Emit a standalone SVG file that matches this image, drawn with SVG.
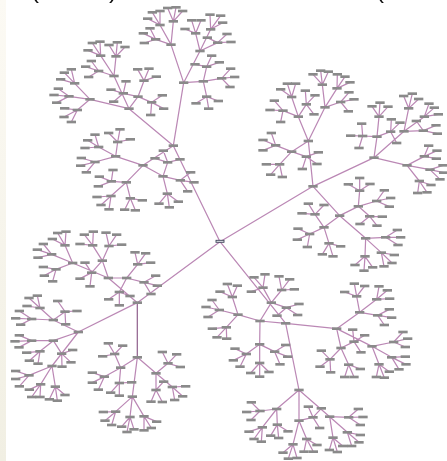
<svg xmlns="http://www.w3.org/2000/svg" width="447" height="461" viewBox="0 0 447 461">
<style>
.t{font:24px "Liberation Sans",Arial,sans-serif;fill:#111}
.e path{fill:none;stroke:#bb88b5;stroke-width:3.7;stroke-linecap:round;stroke-linejoin:round}
.e .r{stroke-width:1.25}
.e .d{stroke:#8f5f8c;stroke-width:1.2}
.k{fill:#8a8a8a}
</style>
<defs>
<linearGradient id="g" x1="0" y1="0" x2="0" y2="1"><stop offset="0" stop-color="#fcfaf4"/><stop offset="1" stop-color="#f1efe3"/></linearGradient>
<filter id="s" filterUnits="userSpaceOnUse" x="0" y="0" width="447" height="461"><feGaussianBlur stdDeviation="0.38"/></filter>
<rect id="b" class="k" x="-14" y="-4" width="28" height="8"/>
</defs>
<rect width="447" height="461" fill="#fff"/>
<rect width="6" height="461" fill="url(#g)"/>
<g filter="url(#s)">
<text class="t" x="31" y="-2">(</text><text class="t" x="109" y="-2">)</text><text class="t" x="376" y="-2">(</text>
<g id="connectors" class="e">
<path class="r" d="M220 241.7L173.3 145.7M220 241.7L313 186.3M220 241.7L137.3 302.7M220 241.7L285.7 323.3"/>
<path class="d" d="M137.3 302.7L137.3 357.3"/>
<path transform="scale(.33333)" d="M520 437L551 248 520 437 387 326 520 437 429 496M551 248L513 134 551 248 600 153 551 248 610 244M513 134L480 75 513 134 520 64 513 134 467 118M480 75L457 37 480 75 480 33 480 75 443 56M520 64L503 24 520 64 528 22 520 64 548 33M467 118L430 100 467 118 450 85 467 118 433 129M600 153L587 100 600 153 632 88 600 153 653 128M587 100L555 87 587 100 575 61 587 100 603 61M632 88L630 44 632 88 662 47 632 88 668 68M653 128L622 113 653 128 681 102 653 128 693 126M610 244L620 200 610 244 665 235 610 244 620 290M620 200L585 193 620 200 635 167 620 200 658 187M665 235L692 206 665 235 704 231 665 235 690 261M620 290L588 310 620 290 626 326 620 290 655 303M387 326L270 298 387 326 342 228 387 326 414 290M270 298L224 250 270 298 207 289 270 298 232 330M224 250L193 218 224 250 214 208 224 250 182 238M207 289L175 266 207 289 162 285 207 289 170 308M232 330L194 325 232 330 192 351 232 330 214 366M342 228L302 167 342 228 348 169 342 228 296 213M302 167L277 129 302 167 300 125 302 167 264 151M348 169L327 135 348 169 352 127 348 169 375 141M296 213L274 183 296 213 257 200 296 213 266 231M414 290L370 280 414 290 432 242 414 290 455 307M370 280L333 269 370 280 378 244 370 280 341 305M432 242L413 208 432 242 447 206 432 242 469 230M455 307L487 286 455 307 491 326 455 307 452 345M429 496L347 469 429 496 379 547 429 496 489 529M489 529L503 487 489 529 541 541 489 529 502 581M503 487L490 452 503 487 465 475 503 487 540 478M541 541L572 517 541 541 582 547 541 541 563 574M502 581L477 611 502 581 508 622 502 581 535 605M347 469L296 441 347 469 353 426 347 469 285 486M296 441L263 421 296 441 285 404 296 441 255 444M353 426L326 399 353 426 360 388 353 426 391 418M285 486L244 474 285 486 242 497 285 486 259 517M379 547L334 544 379 547 333 588 379 547 391 595M334 544L298 530 334 544 339 510 334 544 295 559M333 588L291 591 333 588 303 615 333 588 327 628M391 595L374 629 391 595 406 631 391 595 427 601"/>
<path transform="translate(224 0) scale(.33333)" d="M267 559L253 423 267 559 450 473 267 559 347 647M253 423L223 350 253 423 303 322 253 423 203 455M203 455L155 436 203 455 167 493 203 455 247 470M223 350L203 291 223 350 247 313 223 350 177 332M203 291L170 268 203 291 190 251 203 291 215 251M247 313L244 272 247 313 273 286 247 313 270 343M177 332L151 302 177 332 138 330 177 332 170 366M303 322L295 254 303 322 339 265 303 322 350 306M295 254L267 223 295 254 290 212 295 254 313 215M339 265L340 223 339 265 363 230 339 265 378 247M350 306L375 277 350 306 390 298 350 306 373 334M155 436L142 399 155 436 117 420 155 436 117 451M167 493L127 493 167 493 140 524 167 493 175 531M247 470L283 457 247 470 279 492 247 470 235 507M450 473L459 410 450 473 540 394 450 473 549 496M459 410L416 408 459 410 465 350 459 410 500 395M416 408L380 407 416 408 413 371 416 408 405 444M465 350L444 319 465 350 468 308 465 350 492 320M500 395L502 358 500 395 528 368 500 395 518 429M540 394L554 325 540 394 601 350 540 394 598 392M554 325L539 288 554 325 565 281 554 325 584 297M601 350L615 311 601 350 631 323 601 350 643 343M598 392L577 363 598 392 636 376 598 392 640 401M549 496L601 469 549 496 618 509 549 496 586 543M601 469L614 437 601 469 639 452 601 469 637 476M618 509L657 496 618 509 659 518 618 509 648 538M586 543L621 555 586 543 581 579 586 543 609 577M347 647L403 619 347 647 300 682 347 647 425 715M403 619L407 572 403 619 458 603 403 619 437 649M407 572L373 553 407 572 407 534 407 572 438 552M458 603L481 571 458 603 500 594 458 603 496 620M437 649L475 650 437 649 408 672 437 649 459 677M300 682L273 643 300 682 257 702 300 682 315 730M273 643L253 611 273 643 300 615 273 643 234 640M257 702L222 686 257 702 220 719 257 702 250 741M315 730L350 739 315 730 295 763 315 730 327 769M425 715L485 712 425 715 423 769 425 715 472 758M485 712L520 690 485 712 530 712 485 712 522 735M423 769L393 795 423 769 420 812 423 769 446 802M472 758L511 765 472 758 504 789 472 758 480 799"/>
<path transform="translate(0 230) scale(.33333)" d="M412 218L325 144 412 218 235 306M325 144L218 99 325 144 307 92 325 144 380 144M218 99L195 46 218 99 155 73 218 99 168 118M195 46L173 9 195 46 198 5 195 46 157 27M155 73L130 42 155 73 112 59 155 73 114 83M168 118L130 111 168 118 133 137 168 118 158 154M307 92L278 46 307 92 327 48 307 92 275 128M278 46L253 14 278 46 280 5 278 46 240 42M327 48L318 8 327 48 350 14 327 48 365 44M275 128L255 98 275 128 240 146 275 128 270 169M380 144L413 103 380 144 432 157 380 144 358 186M413 103L405 67 413 103 437 70 413 103 452 98M432 157L467 137 432 157 472 167 432 157 453 192M358 186L326 208 358 186 358 226 358 186 390 198M235 306L160 270 235 306 160 332 235 306 156 408M160 270L120 234 160 270 95 267 160 270 195 245M120 234L87 204 120 234 112 197 120 234 81 228M95 267L58 243 95 267 47 265 95 267 62 284M195 245L173 213 195 245 231 243 195 245 197 283M160 332L95 332 160 332 120 364 160 332 185 371M95 332L58 316 95 332 45 334 95 332 57 352M120 364L80 368 120 364 88 392 120 364 114 401M185 371L218 360 185 371 213 397 185 371 186 410M156 408L87 436 156 408 122 463 156 408 166 470M87 436L47 423 87 436 47 447 87 436 58 469M122 463L88 479 122 463 95 501 122 463 120 501M166 470L148 508 166 470 172 512 166 470 195 495M412 382L362 413 412 382 397 500 412 382 468 430M362 413L344 372 362 413 313 440 362 413 358 459M344 372L325 340 344 372 368 347 344 372 308 379M313 440L277 428 313 440 277 458 313 440 295 479M358 459L395 457 358 459 332 488 358 459 358 497M397 500L347 545 397 500 390 561 397 500 432 559M347 545L310 546 347 545 315 572 347 545 335 585M390 561L365 590 390 561 381 606 390 561 402 598M432 559L432 601 432 559 454 594 432 559 470 575M468 430L504 400 468 430 468 480 468 430 517 471M504 400L487 366 504 400 530 373 504 400 541 411M468 480L491 455 468 480 453 515 468 480 487 516M517 471L557 469 517 471 548 499 517 471 524 510"/>
<path transform="translate(224 230) scale(.33333)" d="M185 280L108 273 185 280 338 296 185 280 225 480M108 273L42 254 108 273 142 218 108 273 107 343M42 254L25 201 42 254 -14 240 42 254 7 292M25 201L10 162 25 201 40 167 25 201 -12 185M-14 240L-36 210 -14 240 -54 231 -14 240 -48 261M7 292L-35 296 7 292 -21 322 7 292 8 326M142 218L117 173 142 218 173 180 142 218 187 233M117 173L90 142 117 173 123 133 117 173 82 185M173 180L165 139 173 180 197 148 173 180 211 178M187 233L225 222 187 233 221 255 187 233 159 257M107 343L67 372 107 343 107 399 107 343 152 365M67 372L33 356 67 372 28 391 67 372 48 410M107 399L80 429 107 399 107 440 107 399 135 426M152 365L185 345 152 365 191 380 152 365 168 403M338 296L351 354 338 296 407 247 338 296 444 349M407 247L398 199 407 247 458 208 407 247 461 256M398 199L362 186 398 199 391 161 398 199 422 168M458 208L465 169 458 208 490 181 458 208 497 206M461 256L496 238 461 256 503 263 461 256 481 285M444 349L509 336 444 349 503 382 444 349 465 403M509 336L537 306 509 336 551 326 509 336 544 351M503 382L544 380 503 382 546 403 503 382 525 418M465 403L496 425 465 403 457 441 465 403 481 443M351 354L318 388 351 354 374 404 351 354 390 335M390 335L386 299 390 335 422 316 390 335 411 367M318 388L292 362 318 388 288 410 318 388 320 427M374 404L362 441 374 404 390 441 374 404 409 417M225 480L158 537 225 480 225 572 225 480 317 560M158 537L108 543 158 537 115 592 158 537 160 584M108 543L82 517 108 543 68 546 108 543 81 570M115 592L75 605 115 592 90 627 115 592 112 635M160 584L140 617 160 584 164 624 160 584 192 604M225 572L207 643 225 572 248 627 225 572 267 562M207 643L177 668 207 643 193 686 207 643 219 684M248 627L240 665 248 627 268 665 248 627 279 645M267 562L253 530 267 562 292 535 267 562 287 594M317 560L374 562 317 560 327 623 317 560 370 607M374 562L403 537 374 562 417 561 374 562 409 585M327 623L316 660 327 623 340 666 327 623 356 648M370 607L409 615 370 607 405 637 370 607 383 648"/>
</g>
<g id="root"><rect x="216" y="240.3" width="8" height="2" fill="#e4e5ec" stroke="#3f465a" stroke-width=".9"/></g>
<g id="tree-a" transform="scale(.33333)">
<g id="a1"><use href="#b" x="520" y="437"/></g><g id="a2"><use href="#b" x="551" y="248"/></g><g id="a3"><use href="#b" x="513" y="134"/></g><g id="a4"><use href="#b" x="480" y="75"/></g><g id="a5"><use href="#b" x="457" y="37"/></g><g id="a6"><use href="#b" x="480" y="33"/></g><g id="a7"><use href="#b" x="443" y="56"/></g><g id="a8"><use href="#b" x="520" y="64"/></g><g id="a9"><use href="#b" x="503" y="24"/></g><g id="a10"><use href="#b" x="528" y="22"/></g><g id="a11"><use href="#b" x="548" y="33"/></g><g id="a12"><use href="#b" x="467" y="118"/></g><g id="a13"><use href="#b" x="430" y="100"/></g><g id="a14"><use href="#b" x="450" y="85"/></g><g id="a15"><use href="#b" x="433" y="129"/></g><g id="a16"><use href="#b" x="600" y="153"/></g><g id="a17"><use href="#b" x="587" y="100"/></g><g id="a18"><use href="#b" x="555" y="87"/></g><g id="a19"><use href="#b" x="575" y="61"/></g><g id="a20"><use href="#b" x="603" y="61"/></g><g id="a21"><use href="#b" x="632" y="88"/></g><g id="a22"><use href="#b" x="630" y="44"/></g><g id="a23"><use href="#b" x="662" y="47"/></g><g id="a24"><use href="#b" x="668" y="68"/></g><g id="a25"><use href="#b" x="653" y="128"/></g><g id="a26"><use href="#b" x="622" y="113"/></g><g id="a27"><use href="#b" x="681" y="102"/></g><g id="a28"><use href="#b" x="693" y="126"/></g><g id="a29"><use href="#b" x="610" y="244"/></g><g id="a30"><use href="#b" x="620" y="200"/></g><g id="a31"><use href="#b" x="585" y="193"/></g><g id="a32"><use href="#b" x="635" y="167"/></g><g id="a33"><use href="#b" x="658" y="187"/></g><g id="a34"><use href="#b" x="665" y="235"/></g><g id="a35"><use href="#b" x="692" y="206"/></g><g id="a36"><use href="#b" x="704" y="231"/></g><g id="a37"><use href="#b" x="690" y="261"/></g><g id="a38"><use href="#b" x="620" y="290"/></g><g id="a39"><use href="#b" x="588" y="310"/></g><g id="a40"><use href="#b" x="626" y="326"/></g><g id="a41"><use href="#b" x="655" y="303"/></g>
<g id="a42"><use href="#b" x="387" y="326"/></g><g id="a43"><use href="#b" x="270" y="298"/></g><g id="a44"><use href="#b" x="224" y="250"/></g><g id="a45"><use href="#b" x="193" y="218"/></g><g id="a46"><use href="#b" x="214" y="208"/></g><g id="a47"><use href="#b" x="182" y="238"/></g><g id="a48"><use href="#b" x="207" y="289"/></g><g id="a49"><use href="#b" x="175" y="266"/></g><g id="a50"><use href="#b" x="162" y="285"/></g><g id="a51"><use href="#b" x="170" y="308"/></g><g id="a52"><use href="#b" x="232" y="330"/></g><g id="a53"><use href="#b" x="194" y="325"/></g><g id="a54"><use href="#b" x="192" y="351"/></g><g id="a55"><use href="#b" x="214" y="366"/></g><g id="a56"><use href="#b" x="342" y="228"/></g><g id="a57"><use href="#b" x="302" y="167"/></g><g id="a58"><use href="#b" x="277" y="129"/></g><g id="a59"><use href="#b" x="300" y="125"/></g><g id="a60"><use href="#b" x="264" y="151"/></g><g id="a61"><use href="#b" x="348" y="169"/></g><g id="a62"><use href="#b" x="327" y="135"/></g><g id="a63"><use href="#b" x="352" y="127"/></g><g id="a64"><use href="#b" x="375" y="141"/></g><g id="a65"><use href="#b" x="296" y="213"/></g><g id="a66"><use href="#b" x="274" y="183"/></g><g id="a67"><use href="#b" x="257" y="200"/></g><g id="a68"><use href="#b" x="266" y="231"/></g><g id="a69"><use href="#b" x="414" y="290"/></g><g id="a70"><use href="#b" x="370" y="280"/></g><g id="a71"><use href="#b" x="333" y="269"/></g><g id="a72"><use href="#b" x="378" y="244"/></g><g id="a73"><use href="#b" x="341" y="305"/></g><g id="a74"><use href="#b" x="432" y="242"/></g><g id="a75"><use href="#b" x="413" y="208"/></g><g id="a76"><use href="#b" x="447" y="206"/></g><g id="a77"><use href="#b" x="469" y="230"/></g><g id="a78"><use href="#b" x="455" y="307"/></g><g id="a79"><use href="#b" x="487" y="286"/></g><g id="a80"><use href="#b" x="491" y="326"/></g><g id="a81"><use href="#b" x="452" y="345"/></g>
<g id="a82"><use href="#b" x="429" y="496"/></g><g id="a83"><use href="#b" x="489" y="529"/></g><g id="a84"><use href="#b" x="503" y="487"/></g><g id="a85"><use href="#b" x="490" y="452"/></g><g id="a86"><use href="#b" x="465" y="475"/></g><g id="a87"><use href="#b" x="540" y="478"/></g><g id="a88"><use href="#b" x="541" y="541"/></g><g id="a89"><use href="#b" x="572" y="517"/></g><g id="a90"><use href="#b" x="582" y="547"/></g><g id="a91"><use href="#b" x="563" y="574"/></g><g id="a92"><use href="#b" x="502" y="581"/></g><g id="a93"><use href="#b" x="477" y="611"/></g><g id="a94"><use href="#b" x="508" y="622"/></g><g id="a95"><use href="#b" x="535" y="605"/></g><g id="a96"><use href="#b" x="347" y="469"/></g><g id="a97"><use href="#b" x="296" y="441"/></g><g id="a98"><use href="#b" x="263" y="421"/></g><g id="a99"><use href="#b" x="285" y="404"/></g><g id="a100"><use href="#b" x="255" y="444"/></g><g id="a101"><use href="#b" x="353" y="426"/></g><g id="a102"><use href="#b" x="326" y="399"/></g><g id="a103"><use href="#b" x="360" y="388"/></g><g id="a104"><use href="#b" x="391" y="418"/></g><g id="a105"><use href="#b" x="285" y="486"/></g><g id="a106"><use href="#b" x="244" y="474"/></g><g id="a107"><use href="#b" x="242" y="497"/></g><g id="a108"><use href="#b" x="259" y="517"/></g><g id="a109"><use href="#b" x="379" y="547"/></g><g id="a110"><use href="#b" x="334" y="544"/></g><g id="a111"><use href="#b" x="298" y="530"/></g><g id="a112"><use href="#b" x="339" y="510"/></g><g id="a113"><use href="#b" x="295" y="559"/></g><g id="a114"><use href="#b" x="333" y="588"/></g><g id="a115"><use href="#b" x="291" y="591"/></g><g id="a116"><use href="#b" x="303" y="615"/></g><g id="a117"><use href="#b" x="327" y="628"/></g><g id="a118"><use href="#b" x="391" y="595"/></g><g id="a119"><use href="#b" x="374" y="629"/></g><g id="a120"><use href="#b" x="406" y="631"/></g><g id="a121"><use href="#b" x="427" y="601"/></g>
</g>
<g id="tree-b" transform="translate(224 0) scale(.33333)">
<g id="b1"><use href="#b" x="267" y="559"/></g><g id="b2"><use href="#b" x="253" y="423"/></g><g id="b3"><use href="#b" x="223" y="350"/></g><g id="b4"><use href="#b" x="203" y="291"/></g><g id="b5"><use href="#b" x="170" y="268"/></g><g id="b6"><use href="#b" x="190" y="251"/></g><g id="b7"><use href="#b" x="215" y="251"/></g><g id="b8"><use href="#b" x="247" y="313"/></g><g id="b9"><use href="#b" x="244" y="272"/></g><g id="b10"><use href="#b" x="273" y="286"/></g><g id="b11"><use href="#b" x="270" y="343"/></g><g id="b12"><use href="#b" x="177" y="332"/></g><g id="b13"><use href="#b" x="151" y="302"/></g><g id="b14"><use href="#b" x="138" y="330"/></g><g id="b15"><use href="#b" x="170" y="366"/></g><g id="b16"><use href="#b" x="303" y="322"/></g><g id="b17"><use href="#b" x="295" y="254"/></g><g id="b18"><use href="#b" x="267" y="223"/></g><g id="b19"><use href="#b" x="290" y="212"/></g><g id="b20"><use href="#b" x="313" y="215"/></g><g id="b21"><use href="#b" x="339" y="265"/></g><g id="b22"><use href="#b" x="340" y="223"/></g><g id="b23"><use href="#b" x="363" y="230"/></g><g id="b24"><use href="#b" x="378" y="247"/></g><g id="b25"><use href="#b" x="350" y="306"/></g><g id="b26"><use href="#b" x="375" y="277"/></g><g id="b27"><use href="#b" x="390" y="298"/></g><g id="b28"><use href="#b" x="373" y="334"/></g><g id="b29"><use href="#b" x="203" y="455"/></g><g id="b30"><use href="#b" x="155" y="436"/></g><g id="b31"><use href="#b" x="142" y="399"/></g><g id="b32"><use href="#b" x="117" y="420"/></g><g id="b33"><use href="#b" x="117" y="451"/></g><g id="b34"><use href="#b" x="167" y="493"/></g><g id="b35"><use href="#b" x="127" y="493"/></g><g id="b36"><use href="#b" x="140" y="524"/></g><g id="b37"><use href="#b" x="175" y="531"/></g><g id="b38"><use href="#b" x="247" y="470"/></g><g id="b39"><use href="#b" x="283" y="457"/></g><g id="b40"><use href="#b" x="279" y="492"/></g><g id="b41"><use href="#b" x="235" y="507"/></g>
<g id="b42"><use href="#b" x="450" y="473"/></g><g id="b43"><use href="#b" x="459" y="410"/></g><g id="b44"><use href="#b" x="416" y="408"/></g><g id="b45"><use href="#b" x="380" y="407"/></g><g id="b46"><use href="#b" x="413" y="371"/></g><g id="b47"><use href="#b" x="405" y="444"/></g><g id="b48"><use href="#b" x="465" y="350"/></g><g id="b49"><use href="#b" x="444" y="319"/></g><g id="b50"><use href="#b" x="468" y="308"/></g><g id="b51"><use href="#b" x="492" y="320"/></g><g id="b52"><use href="#b" x="500" y="395"/></g><g id="b53"><use href="#b" x="502" y="358"/></g><g id="b54"><use href="#b" x="528" y="368"/></g><g id="b55"><use href="#b" x="518" y="429"/></g><g id="b56"><use href="#b" x="540" y="394"/></g><g id="b57"><use href="#b" x="554" y="325"/></g><g id="b58"><use href="#b" x="539" y="288"/></g><g id="b59"><use href="#b" x="565" y="281"/></g><g id="b60"><use href="#b" x="584" y="297"/></g><g id="b61"><use href="#b" x="601" y="350"/></g><g id="b62"><use href="#b" x="615" y="311"/></g><g id="b63"><use href="#b" x="631" y="323"/></g><g id="b64"><use href="#b" x="643" y="343"/></g><g id="b65"><use href="#b" x="598" y="392"/></g><g id="b66"><use href="#b" x="577" y="363"/></g><g id="b67"><use href="#b" x="636" y="376"/></g><g id="b68"><use href="#b" x="640" y="401"/></g><g id="b69"><use href="#b" x="549" y="496"/></g><g id="b70"><use href="#b" x="601" y="469"/></g><g id="b71"><use href="#b" x="614" y="437"/></g><g id="b72"><use href="#b" x="639" y="452"/></g><g id="b73"><use href="#b" x="637" y="476"/></g><g id="b74"><use href="#b" x="618" y="509"/></g><g id="b75"><use href="#b" x="657" y="496"/></g><g id="b76"><use href="#b" x="659" y="518"/></g><g id="b77"><use href="#b" x="648" y="538"/></g><g id="b78"><use href="#b" x="586" y="543"/></g><g id="b79"><use href="#b" x="621" y="555"/></g><g id="b80"><use href="#b" x="581" y="579"/></g><g id="b81"><use href="#b" x="609" y="577"/></g>
<g id="b82"><use href="#b" x="347" y="647"/></g><g id="b83"><use href="#b" x="403" y="619"/></g><g id="b84"><use href="#b" x="407" y="572"/></g><g id="b85"><use href="#b" x="373" y="553"/></g><g id="b86"><use href="#b" x="407" y="534"/></g><g id="b87"><use href="#b" x="438" y="552"/></g><g id="b88"><use href="#b" x="458" y="603"/></g><g id="b89"><use href="#b" x="481" y="571"/></g><g id="b90"><use href="#b" x="500" y="594"/></g><g id="b91"><use href="#b" x="496" y="620"/></g><g id="b92"><use href="#b" x="437" y="649"/></g><g id="b93"><use href="#b" x="475" y="650"/></g><g id="b94"><use href="#b" x="408" y="672"/></g><g id="b95"><use href="#b" x="459" y="677"/></g><g id="b96"><use href="#b" x="300" y="682"/></g><g id="b97"><use href="#b" x="273" y="643"/></g><g id="b98"><use href="#b" x="253" y="611"/></g><g id="b99"><use href="#b" x="300" y="615"/></g><g id="b100"><use href="#b" x="234" y="640"/></g><g id="b101"><use href="#b" x="257" y="702"/></g><g id="b102"><use href="#b" x="222" y="686"/></g><g id="b103"><use href="#b" x="220" y="719"/></g><g id="b104"><use href="#b" x="250" y="741"/></g><g id="b105"><use href="#b" x="315" y="730"/></g><g id="b106"><use href="#b" x="350" y="739"/></g><g id="b107"><use href="#b" x="295" y="763"/></g><g id="b108"><use href="#b" x="327" y="769"/></g><g id="b109"><use href="#b" x="425" y="715"/></g><g id="b110"><use href="#b" x="485" y="712"/></g><g id="b111"><use href="#b" x="520" y="690"/></g><g id="b112"><use href="#b" x="530" y="712"/></g><g id="b113"><use href="#b" x="522" y="735"/></g><g id="b114"><use href="#b" x="423" y="769"/></g><g id="b115"><use href="#b" x="393" y="795"/></g><g id="b116"><use href="#b" x="420" y="812"/></g><g id="b117"><use href="#b" x="446" y="802"/></g><g id="b118"><use href="#b" x="472" y="758"/></g><g id="b119"><use href="#b" x="511" y="765"/></g><g id="b120"><use href="#b" x="504" y="789"/></g><g id="b121"><use href="#b" x="480" y="799"/></g>
</g>
<g id="tree-c" transform="translate(0 230) scale(.33333)">
<g id="c1"><use href="#b" x="412" y="218"/></g><g id="c2"><use href="#b" x="325" y="144"/></g><g id="c3"><use href="#b" x="218" y="99"/></g><g id="c4"><use href="#b" x="195" y="46"/></g><g id="c5"><use href="#b" x="173" y="9"/></g><g id="c6"><use href="#b" x="198" y="5"/></g><g id="c7"><use href="#b" x="157" y="27"/></g><g id="c8"><use href="#b" x="155" y="73"/></g><g id="c9"><use href="#b" x="130" y="42"/></g><g id="c10"><use href="#b" x="112" y="59"/></g><g id="c11"><use href="#b" x="114" y="83"/></g><g id="c12"><use href="#b" x="168" y="118"/></g><g id="c13"><use href="#b" x="130" y="111"/></g><g id="c14"><use href="#b" x="133" y="137"/></g><g id="c15"><use href="#b" x="158" y="154"/></g><g id="c16"><use href="#b" x="307" y="92"/></g><g id="c17"><use href="#b" x="278" y="46"/></g><g id="c18"><use href="#b" x="253" y="14"/></g><g id="c19"><use href="#b" x="280" y="5"/></g><g id="c20"><use href="#b" x="240" y="42"/></g><g id="c21"><use href="#b" x="327" y="48"/></g><g id="c22"><use href="#b" x="318" y="8"/></g><g id="c23"><use href="#b" x="350" y="14"/></g><g id="c24"><use href="#b" x="365" y="44"/></g><g id="c25"><use href="#b" x="275" y="128"/></g><g id="c26"><use href="#b" x="255" y="98"/></g><g id="c27"><use href="#b" x="240" y="146"/></g><g id="c28"><use href="#b" x="270" y="169"/></g><g id="c29"><use href="#b" x="380" y="144"/></g><g id="c30"><use href="#b" x="413" y="103"/></g><g id="c31"><use href="#b" x="405" y="67"/></g><g id="c32"><use href="#b" x="437" y="70"/></g><g id="c33"><use href="#b" x="452" y="98"/></g><g id="c34"><use href="#b" x="432" y="157"/></g><g id="c35"><use href="#b" x="467" y="137"/></g><g id="c36"><use href="#b" x="472" y="167"/></g><g id="c37"><use href="#b" x="453" y="192"/></g><g id="c38"><use href="#b" x="358" y="186"/></g><g id="c39"><use href="#b" x="326" y="208"/></g><g id="c40"><use href="#b" x="358" y="226"/></g><g id="c41"><use href="#b" x="390" y="198"/></g>
<g id="c42"><use href="#b" x="235" y="306"/></g><g id="c43"><use href="#b" x="160" y="270"/></g><g id="c44"><use href="#b" x="120" y="234"/></g><g id="c45"><use href="#b" x="87" y="204"/></g><g id="c46"><use href="#b" x="112" y="197"/></g><g id="c47"><use href="#b" x="81" y="228"/></g><g id="c48"><use href="#b" x="95" y="267"/></g><g id="c49"><use href="#b" x="58" y="243"/></g><g id="c50"><use href="#b" x="47" y="265"/></g><g id="c51"><use href="#b" x="62" y="284"/></g><g id="c52"><use href="#b" x="195" y="245"/></g><g id="c53"><use href="#b" x="173" y="213"/></g><g id="c54"><use href="#b" x="231" y="243"/></g><g id="c55"><use href="#b" x="197" y="283"/></g><g id="c56"><use href="#b" x="160" y="332"/></g><g id="c57"><use href="#b" x="95" y="332"/></g><g id="c58"><use href="#b" x="58" y="316"/></g><g id="c59"><use href="#b" x="45" y="334"/></g><g id="c60"><use href="#b" x="57" y="352"/></g><g id="c61"><use href="#b" x="120" y="364"/></g><g id="c62"><use href="#b" x="80" y="368"/></g><g id="c63"><use href="#b" x="88" y="392"/></g><g id="c64"><use href="#b" x="114" y="401"/></g><g id="c65"><use href="#b" x="185" y="371"/></g><g id="c66"><use href="#b" x="218" y="360"/></g><g id="c67"><use href="#b" x="213" y="397"/></g><g id="c68"><use href="#b" x="186" y="410"/></g><g id="c69"><use href="#b" x="156" y="408"/></g><g id="c70"><use href="#b" x="87" y="436"/></g><g id="c71"><use href="#b" x="47" y="423"/></g><g id="c72"><use href="#b" x="47" y="447"/></g><g id="c73"><use href="#b" x="58" y="469"/></g><g id="c74"><use href="#b" x="122" y="463"/></g><g id="c75"><use href="#b" x="88" y="479"/></g><g id="c76"><use href="#b" x="95" y="501"/></g><g id="c77"><use href="#b" x="120" y="501"/></g><g id="c78"><use href="#b" x="166" y="470"/></g><g id="c79"><use href="#b" x="148" y="508"/></g><g id="c80"><use href="#b" x="172" y="512"/></g><g id="c81"><use href="#b" x="195" y="495"/></g>
<g id="c82"><use href="#b" x="412" y="382"/></g><g id="c83"><use href="#b" x="362" y="413"/></g><g id="c84"><use href="#b" x="344" y="372"/></g><g id="c85"><use href="#b" x="325" y="340"/></g><g id="c86"><use href="#b" x="368" y="347"/></g><g id="c87"><use href="#b" x="308" y="379"/></g><g id="c88"><use href="#b" x="313" y="440"/></g><g id="c89"><use href="#b" x="277" y="428"/></g><g id="c90"><use href="#b" x="277" y="458"/></g><g id="c91"><use href="#b" x="295" y="479"/></g><g id="c92"><use href="#b" x="358" y="459"/></g><g id="c93"><use href="#b" x="395" y="457"/></g><g id="c94"><use href="#b" x="332" y="488"/></g><g id="c95"><use href="#b" x="358" y="497"/></g><g id="c96"><use href="#b" x="397" y="500"/></g><g id="c97"><use href="#b" x="347" y="545"/></g><g id="c98"><use href="#b" x="310" y="546"/></g><g id="c99"><use href="#b" x="315" y="572"/></g><g id="c100"><use href="#b" x="335" y="585"/></g><g id="c101"><use href="#b" x="390" y="561"/></g><g id="c102"><use href="#b" x="365" y="590"/></g><g id="c103"><use href="#b" x="381" y="606"/></g><g id="c104"><use href="#b" x="402" y="598"/></g><g id="c105"><use href="#b" x="432" y="559"/></g><g id="c106"><use href="#b" x="432" y="601"/></g><g id="c107"><use href="#b" x="454" y="594"/></g><g id="c108"><use href="#b" x="470" y="575"/></g><g id="c109"><use href="#b" x="468" y="430"/></g><g id="c110"><use href="#b" x="504" y="400"/></g><g id="c111"><use href="#b" x="487" y="366"/></g><g id="c112"><use href="#b" x="530" y="373"/></g><g id="c113"><use href="#b" x="541" y="411"/></g><g id="c114"><use href="#b" x="468" y="480"/></g><g id="c115"><use href="#b" x="491" y="455"/></g><g id="c116"><use href="#b" x="453" y="515"/></g><g id="c117"><use href="#b" x="487" y="516"/></g><g id="c118"><use href="#b" x="517" y="471"/></g><g id="c119"><use href="#b" x="557" y="469"/></g><g id="c120"><use href="#b" x="548" y="499"/></g><g id="c121"><use href="#b" x="524" y="510"/></g>
</g>
<g id="tree-d" transform="translate(224 230) scale(.33333)">
<g id="d1"><use href="#b" x="185" y="280"/></g><g id="d2"><use href="#b" x="108" y="273"/></g><g id="d3"><use href="#b" x="42" y="254"/></g><g id="d4"><use href="#b" x="25" y="201"/></g><g id="d5"><use href="#b" x="10" y="162"/></g><g id="d6"><use href="#b" x="40" y="167"/></g><g id="d7"><use href="#b" x="-12" y="185"/></g><g id="d8"><use href="#b" x="-14" y="240"/></g><g id="d9"><use href="#b" x="-36" y="210"/></g><g id="d10"><use href="#b" x="-54" y="231"/></g><g id="d11"><use href="#b" x="-48" y="261"/></g><g id="d12"><use href="#b" x="7" y="292"/></g><g id="d13"><use href="#b" x="-35" y="296"/></g><g id="d14"><use href="#b" x="-21" y="322"/></g><g id="d15"><use href="#b" x="8" y="326"/></g><g id="d16"><use href="#b" x="142" y="218"/></g><g id="d17"><use href="#b" x="117" y="173"/></g><g id="d18"><use href="#b" x="90" y="142"/></g><g id="d19"><use href="#b" x="123" y="133"/></g><g id="d20"><use href="#b" x="82" y="185"/></g><g id="d21"><use href="#b" x="173" y="180"/></g><g id="d22"><use href="#b" x="165" y="139"/></g><g id="d23"><use href="#b" x="197" y="148"/></g><g id="d24"><use href="#b" x="211" y="178"/></g><g id="d25"><use href="#b" x="187" y="233"/></g><g id="d26"><use href="#b" x="225" y="222"/></g><g id="d27"><use href="#b" x="221" y="255"/></g><g id="d28"><use href="#b" x="159" y="257"/></g><g id="d29"><use href="#b" x="107" y="343"/></g><g id="d30"><use href="#b" x="67" y="372"/></g><g id="d31"><use href="#b" x="33" y="356"/></g><g id="d32"><use href="#b" x="28" y="391"/></g><g id="d33"><use href="#b" x="48" y="410"/></g><g id="d34"><use href="#b" x="107" y="399"/></g><g id="d35"><use href="#b" x="80" y="429"/></g><g id="d36"><use href="#b" x="107" y="440"/></g><g id="d37"><use href="#b" x="135" y="426"/></g><g id="d38"><use href="#b" x="152" y="365"/></g><g id="d39"><use href="#b" x="185" y="345"/></g><g id="d40"><use href="#b" x="191" y="380"/></g><g id="d41"><use href="#b" x="168" y="403"/></g>
<g id="d42"><use href="#b" x="338" y="296"/></g><g id="d43"><use href="#b" x="407" y="247"/></g><g id="d44"><use href="#b" x="398" y="199"/></g><g id="d45"><use href="#b" x="362" y="186"/></g><g id="d46"><use href="#b" x="391" y="161"/></g><g id="d47"><use href="#b" x="422" y="168"/></g><g id="d48"><use href="#b" x="458" y="208"/></g><g id="d49"><use href="#b" x="465" y="169"/></g><g id="d50"><use href="#b" x="490" y="181"/></g><g id="d51"><use href="#b" x="497" y="206"/></g><g id="d52"><use href="#b" x="461" y="256"/></g><g id="d53"><use href="#b" x="496" y="238"/></g><g id="d54"><use href="#b" x="503" y="263"/></g><g id="d55"><use href="#b" x="481" y="285"/></g><g id="d56"><use href="#b" x="444" y="349"/></g><g id="d57"><use href="#b" x="509" y="336"/></g><g id="d58"><use href="#b" x="537" y="306"/></g><g id="d59"><use href="#b" x="551" y="326"/></g><g id="d60"><use href="#b" x="544" y="351"/></g><g id="d61"><use href="#b" x="503" y="382"/></g><g id="d62"><use href="#b" x="544" y="380"/></g><g id="d63"><use href="#b" x="546" y="403"/></g><g id="d64"><use href="#b" x="525" y="418"/></g><g id="d65"><use href="#b" x="465" y="403"/></g><g id="d66"><use href="#b" x="496" y="425"/></g><g id="d67"><use href="#b" x="457" y="441"/></g><g id="d68"><use href="#b" x="481" y="443"/></g><g id="d69"><use href="#b" x="351" y="354"/></g><g id="d70"><use href="#b" x="390" y="335"/></g><g id="d71"><use href="#b" x="386" y="299"/></g><g id="d72"><use href="#b" x="422" y="316"/></g><g id="d73"><use href="#b" x="411" y="367"/></g><g id="d74"><use href="#b" x="318" y="388"/></g><g id="d75"><use href="#b" x="292" y="362"/></g><g id="d76"><use href="#b" x="288" y="410"/></g><g id="d77"><use href="#b" x="320" y="427"/></g><g id="d78"><use href="#b" x="374" y="404"/></g><g id="d79"><use href="#b" x="362" y="441"/></g><g id="d80"><use href="#b" x="390" y="441"/></g><g id="d81"><use href="#b" x="409" y="417"/></g>
<g id="d82"><use href="#b" x="225" y="480"/></g><g id="d83"><use href="#b" x="158" y="537"/></g><g id="d84"><use href="#b" x="108" y="543"/></g><g id="d85"><use href="#b" x="82" y="517"/></g><g id="d86"><use href="#b" x="68" y="546"/></g><g id="d87"><use href="#b" x="81" y="570"/></g><g id="d88"><use href="#b" x="115" y="592"/></g><g id="d89"><use href="#b" x="75" y="605"/></g><g id="d90"><use href="#b" x="90" y="627"/></g><g id="d91"><use href="#b" x="112" y="635"/></g><g id="d92"><use href="#b" x="160" y="584"/></g><g id="d93"><use href="#b" x="140" y="617"/></g><g id="d94"><use href="#b" x="164" y="624"/></g><g id="d95"><use href="#b" x="192" y="604"/></g><g id="d96"><use href="#b" x="225" y="572"/></g><g id="d97"><use href="#b" x="207" y="643"/></g><g id="d98"><use href="#b" x="177" y="668"/></g><g id="d99"><use href="#b" x="193" y="686"/></g><g id="d100"><use href="#b" x="219" y="684"/></g><g id="d101"><use href="#b" x="248" y="627"/></g><g id="d102"><use href="#b" x="240" y="665"/></g><g id="d103"><use href="#b" x="268" y="665"/></g><g id="d104"><use href="#b" x="279" y="645"/></g><g id="d105"><use href="#b" x="267" y="562"/></g><g id="d106"><use href="#b" x="253" y="530"/></g><g id="d107"><use href="#b" x="292" y="535"/></g><g id="d108"><use href="#b" x="287" y="594"/></g><g id="d109"><use href="#b" x="317" y="560"/></g><g id="d110"><use href="#b" x="374" y="562"/></g><g id="d111"><use href="#b" x="403" y="537"/></g><g id="d112"><use href="#b" x="417" y="561"/></g><g id="d113"><use href="#b" x="409" y="585"/></g><g id="d114"><use href="#b" x="327" y="623"/></g><g id="d115"><use href="#b" x="316" y="660"/></g><g id="d116"><use href="#b" x="340" y="666"/></g><g id="d117"><use href="#b" x="356" y="648"/></g><g id="d118"><use href="#b" x="370" y="607"/></g><g id="d119"><use href="#b" x="409" y="615"/></g><g id="d120"><use href="#b" x="405" y="637"/></g><g id="d121"><use href="#b" x="383" y="648"/></g>
</g>
</g>
</svg>
